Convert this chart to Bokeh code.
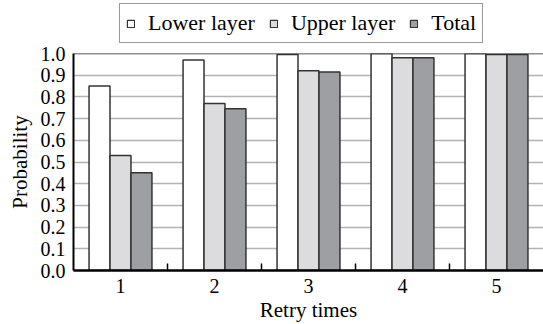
from bokeh.plotting import figure
from bokeh.layouts import column
from bokeh.models import (Range1d, FixedTicker, Legend, LegendItem, Span,
                          ColumnDataSource)
from bokeh.transform import dodge
from bokeh.embed import file_html
from bokeh.resources import INLINE

# ---- data ----
categories = ["1", "2", "3", "4", "5"]
lower_layer = [0.85, 0.97, 0.995, 1.0, 1.0]
upper_layer = [0.53, 0.77, 0.92, 0.98, 0.995]
total = [0.45, 0.745, 0.915, 0.98, 0.995]
y_ticks = [0.0, 0.1, 0.2, 0.3, 0.4, 0.5, 0.6, 0.7, 0.8, 0.9, 1.0]
series_names = ["Lower layer", "Upper layer", "Total"]
series_colors = ["#ffffff", "#dcdcde", "#9e9fa3"]

xpos = list(range(1, len(categories) + 1))
src = ColumnDataSource(dict(x=xpos, lower=lower_layer, upper=upper_layer, total=total))

FONT = "Liberation Serif"
BAR_LINE = "#333333"
keys = ["lower", "upper", "total"]
LEFT = 73

# ---------- main chart ----------
p = figure(width=543, height=281, output_backend="svg", toolbar_location=None,
           x_range=Range1d(0.5, len(categories) + 0.5), y_range=Range1d(0, 1.0),
           min_border_left=LEFT, min_border_right=0, min_border_top=10,
           min_border_bottom=54)
p.outline_line_color = None
p.background_fill_color = "white"
p.border_fill_color = "white"

bw = 0.223
offsets = [-bw, 0.0, bw]
for k, off, col in zip(keys, offsets, series_colors):
    p.vbar(x=dodge("x", off, range=p.x_range), top=k, width=bw, bottom=0,
           source=src, fill_color=col, line_color=BAR_LINE, line_width=1.5)

# top frame line
p.add_layout(Span(location=1.0, dimension="width", line_color="#222222", line_width=1.5))

# grid
p.xgrid.grid_line_color = None
p.ygrid.grid_line_color = "#b3b3b3"
p.ygrid.grid_line_width = 1.5
p.ygrid.ticker = FixedTicker(ticks=y_ticks)

# x axis
xa = p.xaxis[0]
xa.ticker = FixedTicker(ticks=xpos, minor_ticks=[v + 0.5 for v in xpos[:-1]])
xa.major_label_overrides = {v: c for v, c in zip(xpos, categories)}
xa.major_tick_in = 0
xa.major_tick_out = 0
xa.minor_tick_in = 7
xa.minor_tick_out = 0
xa.minor_tick_line_color = "black"
xa.minor_tick_line_width = 1.5
xa.axis_line_color = "black"
xa.axis_line_width = 2.5
xa.major_label_text_font = FONT
xa.major_label_text_font_size = "20px"
xa.major_label_text_color = "black"
xa.major_label_standoff = 8
xa.axis_label = "Retry times"
xa.axis_label_text_font = FONT
xa.axis_label_text_font_size = "21px"
xa.axis_label_text_font_style = "normal"
xa.axis_label_text_color = "black"
xa.axis_label_standoff = 2

# y axis
ya = p.yaxis[0]
ya.ticker = FixedTicker(ticks=y_ticks)
ya.major_label_overrides = {t: f"{t:.1f}" for t in y_ticks}
ya.major_tick_in = 0
ya.major_tick_out = 0
ya.minor_tick_line_color = None
ya.axis_line_color = "black"
ya.axis_line_width = 2
ya.major_label_text_font = FONT
ya.major_label_text_font_size = "20px"
ya.major_label_text_color = "black"
ya.major_label_standoff = 8
ya.axis_label = "Probability"
ya.axis_label_text_font = FONT
ya.axis_label_text_font_size = "21px"
ya.axis_label_text_font_style = "normal"
ya.axis_label_text_color = "black"
ya.axis_label_standoff = 6

# ---------- legend strip above the chart ----------
# same series renderers, hidden, so only the legend shows
lg = figure(width=543, height=43, output_backend="svg", toolbar_location=None,
            x_axis_type=None, y_axis_type=None,
            min_border_left=LEFT, min_border_right=0, min_border_top=0, min_border_bottom=0,
            x_range=Range1d(0.5, len(categories) + 0.5), y_range=Range1d(-2, -1))
lg.outline_line_color = None
lg.grid.grid_line_color = None
lg_renderers = []
for k, col in zip(keys, series_colors):
    r = lg.vbar(x="x", top=k, width=bw, bottom=0, source=src,
                fill_color=col, line_color=BAR_LINE, line_width=1.2)
    r.visible = False
    lg_renderers.append(r)

legend = Legend(items=[LegendItem(label=n, renderers=[r]) for n, r in zip(series_names, lg_renderers)],
                orientation="horizontal", location=(46, 0))
legend.label_text_font = FONT
legend.label_text_font_size = "22px"
legend.label_text_color = "black"
legend.label_height = 20
legend.glyph_width = 9
legend.glyph_height = 9
legend.label_standoff = 13
legend.spacing = 14
legend.padding = 6
legend.margin = 0
legend.inactive_fill_alpha = 0
legend.border_line_color = "#333333"
legend.border_line_width = 1.5
legend.background_fill_alpha = 1
lg.add_layout(legend, "center")

layout = column(lg, p, spacing=0)
open("out.html", "w").write(file_html(layout, INLINE))
